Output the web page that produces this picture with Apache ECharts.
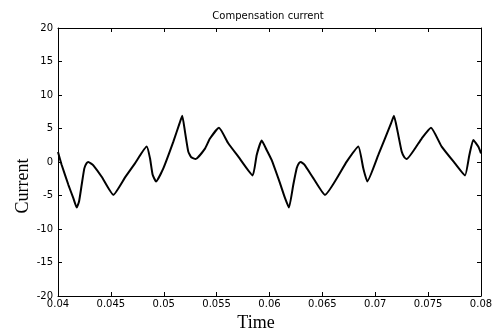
<!DOCTYPE html>
<html>
<head>
<meta charset="utf-8">
<script src="https://cdn.jsdelivr.net/npm/echarts@6/dist/echarts.min.js"></script>
<style>
  html, body { margin: 0; padding: 0; background: #fff; }
  #chart { width: 497px; height: 333px; }
</style>
</head>
<body>
<div id="chart"></div>
<script>
// time (s) and compensation current
var timeValues = [
  0.0400, 0.04035, 0.04098, 0.04145, 0.04177, 0.04199, 0.04224, 0.04249, 0.04270, 0.04287,
  0.04310, 0.04334, 0.04413, 0.04523, 0.04634, 0.04728, 0.04839, 0.04870, 0.04895, 0.04927,
  0.04996, 0.05090, 0.05150, 0.05175, 0.05201, 0.05232, 0.05260, 0.05302, 0.05390, 0.05437,
  0.05522, 0.05610, 0.05705, 0.05841, 0.05879, 0.05926, 0.05973, 0.06020, 0.06100, 0.06147,
  0.06184, 0.06225, 0.06257, 0.06278, 0.06295, 0.06330, 0.06414, 0.06525, 0.06730, 0.06840,
  0.06887, 0.06925, 0.07029, 0.07150, 0.07177, 0.07212, 0.07250, 0.07275, 0.07297, 0.07439,
  0.07527, 0.07628, 0.07754, 0.07849, 0.07890, 0.07927, 0.07974, 0.0800
];
var currentValues = [
  1.5, -0.45, -3.4, -5.4, -6.8, -5.9, -3.4, -0.95, -0.2, 0.0,
  -0.2, -0.5, -2.2, -4.9, -2.3, -0.2, 2.3, 0.55, -1.9, -2.9,
  -0.95, 3.0, 5.8, 6.9, 4.5, 1.55, 0.7, 0.45, 2.0, 3.5,
  5.1, 2.8, 0.8, -2.0, 1.05, 3.2, 1.8, 0.3, -3.2, -5.4,
  -6.8, -3.4, -0.95, -0.2, 0.0, -0.4, -2.4, -4.9, 0.05, 2.3,
  -0.95, -2.9, 1.05, 5.8, 6.9, 4.5, 1.55, 0.7, 0.45, 3.5,
  5.1, 2.3, -0.2, -2.0, 1.05, 3.3, 2.3, 1.3
];
var xTicks = { min: 0.04, max: 0.08, step: 0.005 };
var yTicks = { min: -20, max: 20, step: 5 };

var chart = echarts.init(document.getElementById('chart'));

var seriesData = timeValues.map(function (t, i) { return [t, currentValues[i]]; });

var labelFont = 'DejaVu Sans';
var axisLine = { show: true, onZero: false, lineStyle: { color: '#000', width: 1 } };
var inTick = { show: true, inside: true, length: 4, lineStyle: { color: '#000' } };

var option = {
  backgroundColor: '#fff',
  animation: false,
  grid: { left: 58, right: 16, top: 28, bottom: 37 },
  xAxis: [
    {
      type: 'value', position: 'bottom',
      min: xTicks.min, max: xTicks.max, interval: xTicks.step,
      axisLine: axisLine, axisTick: inTick, splitLine: { show: false },
      axisLabel: {
        color: '#000', fontFamily: labelFont, fontSize: 10, margin: 3,
        formatter: function (v) { return String(+v.toFixed(3)); }
      }
    },
    {
      type: 'value', position: 'top',
      min: xTicks.min, max: xTicks.max, interval: xTicks.step,
      axisLine: axisLine, axisTick: inTick, splitLine: { show: false },
      axisLabel: { show: false }
    }
  ],
  yAxis: [
    {
      type: 'value', position: 'left',
      min: yTicks.min, max: yTicks.max, interval: yTicks.step,
      axisLine: axisLine, axisTick: inTick, splitLine: { show: false },
      axisLabel: { color: '#000', fontFamily: labelFont, fontSize: 10, margin: 5 }
    },
    {
      type: 'value', position: 'right',
      min: yTicks.min, max: yTicks.max, interval: yTicks.step,
      axisLine: axisLine, axisTick: inTick, splitLine: { show: false },
      axisLabel: { show: false }
    }
  ],
  graphic: [
    {
      type: 'text', x: 268, y: 16,
      style: {
        text: 'Compensation current', fill: '#000',
        font: '10px "DejaVu Sans"', textAlign: 'center', textVerticalAlign: 'middle'
      }
    },
    {
      type: 'text', x: 256, y: 323,
      style: {
        text: 'Time', fill: '#000',
        font: '18px "Liberation Serif"', textAlign: 'center', textVerticalAlign: 'middle'
      }
    },
    {
      type: 'text', x: 23, y: 186, rotation: Math.PI / 2,
      style: {
        text: 'Current', fill: '#000',
        font: '18px "Liberation Serif"', textAlign: 'center', textVerticalAlign: 'middle'
      }
    }
  ],
  series: [
    {
      name: 'current',
      type: 'line',
      data: seriesData,
      showSymbol: false,
      smooth: 0.15,
      lineStyle: { color: '#000', width: 2 },
      clip: true
    }
  ]
};

chart.setOption(option);
</script>
</body>
</html>
